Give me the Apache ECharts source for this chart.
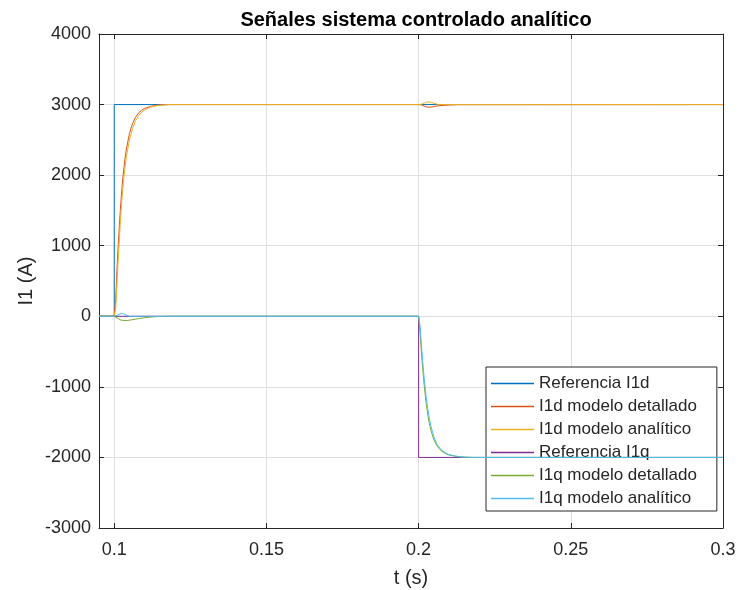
<!DOCTYPE html>
<html>
<head>
<meta charset="utf-8">
<script src="https://cdn.jsdelivr.net/npm/echarts@6/dist/echarts.min.js"></script>
<style>
  html, body { margin: 0; padding: 0; background: #ffffff; }
  #chart { width: 738px; height: 590px; }
</style>
</head>
<body>
<div id="chart"></div>
<script>
// Time axis ticks
const xTicks = [0.1, 0.15, 0.2, 0.25, 0.3];

// Referencia I1d: step to 3000 A at t = 0.1 s
const refDT = [0.095, 0.1, 0.1, 0.3];
const refDV = [0, 0, 3000, 3000];

// I1d modelo detallado
const detDT = [0.095, 0.1, 0.1005, 0.101, 0.1015, 0.102, 0.1025, 0.103, 0.1035, 0.104, 0.105, 0.106, 0.107, 0.108, 0.109, 0.110, 0.112, 0.114, 0.116, 0.118,
               0.2, 0.201, 0.202, 0.203, 0.204, 0.205, 0.207, 0.21, 0.213, 0.3];
const detDV = [0, 0, 250, 750, 1150, 1500, 1800, 2030, 2220, 2370, 2590, 2730, 2820, 2880, 2920, 2945, 2975, 2990, 2997, 3000,
               3000, 2995, 2975, 2962, 2964, 2972, 2985, 2994, 2999, 3000];

// I1d modelo analítico
const anaDT = [0.095, 0.1, 0.1005, 0.101, 0.1015, 0.102, 0.1025, 0.103, 0.1035, 0.104, 0.105, 0.106, 0.107, 0.108, 0.109, 0.110, 0.112, 0.114, 0.116, 0.118,
               0.2, 0.201, 0.202, 0.203, 0.204, 0.205, 0.206, 0.207, 0.3];
const anaDV = [0, 0, 120, 550, 950, 1320, 1640, 1890, 2090, 2260, 2500, 2660, 2770, 2840, 2890, 2925, 2965, 2985, 2995, 3000,
               3000, 3005, 3025, 3038, 3034, 3020, 3006, 3000, 3000];

// Referencia I1q: step to -2000 A at t = 0.2 s
const refQT = [0.095, 0.2, 0.2, 0.3];
const refQV = [0, 0, -2000, -2000];

// I1q modelo detallado
const detQT = [0.095, 0.1, 0.101, 0.102, 0.103, 0.104, 0.105, 0.106, 0.108, 0.110, 0.112, 0.114, 0.117,
               0.2, 0.2005, 0.201, 0.2015, 0.202, 0.2025, 0.203, 0.2035, 0.204, 0.205, 0.206, 0.207, 0.208, 0.209, 0.21, 0.212, 0.214, 0.216, 0.218, 0.3];
const detQV = [0, 0, -25, -50, -60, -60, -55, -48, -33, -20, -10, -4, 0,
               0, -250, -560, -820, -1050, -1240, -1390, -1510, -1610, -1750, -1835, -1890, -1925, -1950, -1965, -1983, -1993, -1998, -2000, -2000];

// I1q modelo analítico
const anaQT = [0.095, 0.1, 0.101, 0.102, 0.1028, 0.1035, 0.104, 0.105,
               0.2, 0.2005, 0.201, 0.2015, 0.202, 0.2025, 0.203, 0.2035, 0.204, 0.205, 0.206, 0.207, 0.208, 0.209, 0.21, 0.212, 0.214, 0.216, 0.218, 0.3];
const anaQV = [0, 0, 15, 35, 40, 25, 10, 0,
               0, -150, -450, -720, -950, -1150, -1310, -1440, -1550, -1710, -1810, -1870, -1910, -1940, -1960, -1980, -1992, -1997, -2000, -2000];

const seriesNames = ['Referencia I1d', 'I1d modelo detallado', 'I1d modelo analítico',
                     'Referencia I1q', 'I1q modelo detallado', 'I1q modelo analítico'];
const seriesColors = ['#0072BD', '#D95319', '#EDB120', '#7E2F8E', '#77AC30', '#4DBEEE'];
const seriesT = [refDT, detDT, anaDT, refQT, detQT, anaQT];
const seriesV = [refDV, detDV, anaDV, refQV, detQV, anaQV];

const FONT = '"Liberation Sans", Arial, Helvetica, sans-serif';
const INK = '#262626';
const GRIDC = '#dfdfdf';

const chart = echarts.init(document.getElementById('chart'), null, { renderer: 'canvas' });

const xMin = 0.095, xMax = 0.3, yMin = -3000, yMax = 4000;

function xAxisCfg(pos, main) {
  return {
    type: 'value', position: pos, min: xMin, max: xMax,
    axisLine: { show: true, onZero: false, lineStyle: { color: INK, width: 1 } },
    axisTick: { show: true, inside: true, length: 5, customValues: xTicks, lineStyle: { color: INK } },
    axisLabel: {
      show: main, customValues: xTicks, margin: 13,
      color: INK, fontFamily: FONT, fontSize: 18,
      formatter: v => String(Math.round(v * 1000) / 1000)
    },
    splitLine: { show: main, lineStyle: { color: GRIDC, width: 1 } },
    name: main ? 't (s)' : '',
    nameLocation: 'middle', nameGap: 40, nameMoveOverlap: false,
    nameTextStyle: { color: INK, fontFamily: FONT, fontSize: 20 }
  };
}

function yAxisCfg(pos, main) {
  return {
    type: 'value', position: pos, min: yMin, max: yMax, interval: 1000,
    axisLine: { show: true, onZero: false, lineStyle: { color: INK, width: 1 } },
    axisTick: { show: true, inside: true, length: 5, lineStyle: { color: INK } },
    axisLabel: { show: main, margin: 8, color: INK, fontFamily: FONT, fontSize: 18, formatter: v => String(v) },
    splitLine: { show: main, lineStyle: { color: GRIDC, width: 1 } },
    name: main ? 'I1 (A)' : '',
    nameLocation: 'middle', nameGap: 63, nameMoveOverlap: false,
    nameTextStyle: { color: INK, fontFamily: FONT, fontSize: 20 }
  };
}

const series = seriesNames.map((name, i) => ({
  name: name,
  type: 'line',
  color: seriesColors[i],
  xAxisIndex: 0, yAxisIndex: 0,
  data: seriesT[i].map((t, k) => [t, seriesV[i][k]]),
  showSymbol: false, symbol: 'none',
  lineStyle: { color: seriesColors[i], width: 1 },
  itemStyle: { color: seriesColors[i], borderWidth: 0 },
  animation: false,
  z: 2 + i
}));

chart.setOption({
  backgroundColor: '#ffffff',
  animation: false,
  title: {
    text: 'Señales sistema controlado analítico',
    left: 411, top: 5, textAlign: 'center',
    textStyle: { color: '#000000', fontFamily: FONT, fontSize: 20, fontWeight: 'bold' }
  },
  grid: { left: 99, right: 15, top: 34, bottom: 62, containLabel: false, outerBoundsMode: 'none' },
  xAxis: [xAxisCfg('bottom', true), xAxisCfg('top', false)],
  yAxis: [yAxisCfg('left', true), yAxisCfg('right', false)],
  legend: {
    orient: 'vertical', left: 486, top: 367,
    data: seriesNames.map((n, i) => ({ name: n, itemStyle: { color: seriesColors[i], borderWidth: 0 } })),
    icon: 'rect', itemWidth: 43, itemHeight: 1.5, itemGap: 0,
    itemStyle: { borderWidth: 0 },
    padding: [5, 20, 1, 5],
    backgroundColor: '#ffffff', borderColor: INK, borderWidth: 1, borderRadius: 0,
    textStyle: { color: INK, fontFamily: FONT, fontSize: 17, lineHeight: 23 }
  },
  series: series
});
</script>
</body>
</html>
